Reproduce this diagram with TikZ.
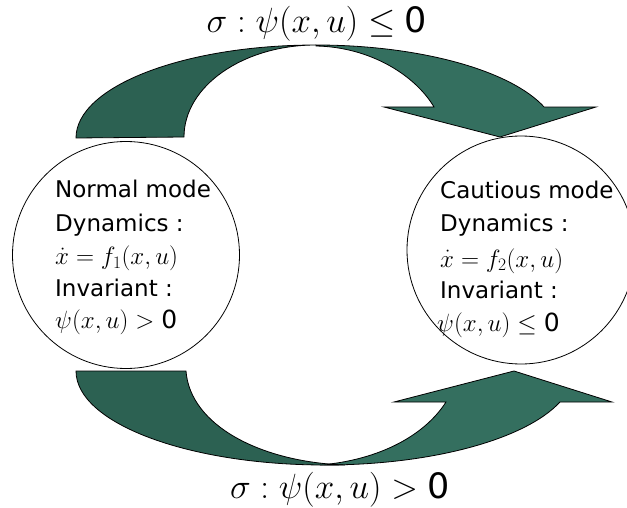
\RequirePackage{fix-cm}
\documentclass[tikz,border=0pt]{standalone}
\usepackage{fontspec}
\setmainfont{DejaVu Sans}
\definecolor{arrowdark}{RGB}{44,97,82}
\definecolor{arrowlight}{RGB}{52,111,95}
\tikzset{
  band/.style={draw=black, line width=0.8pt, line join=miter},
  bandA/.style={band, fill=arrowdark},
  bandB/.style={band, fill=arrowlight},
  modecircle/.style={draw=black, circle, line width=0.8pt, inner sep=0pt},
  txt/.style={anchor=base west, inner sep=0pt, font=\fontsize{23}{28}\selectfont},
  mtxt/.style={anchor=base west, inner sep=0pt, font=\fontsize{25}{30}\selectfont},
  lbl/.style={anchor=base, inner sep=0pt, font=\fontsize{35}{42}\selectfont},
}
\begin{document}
\begin{tikzpicture}[x=1pt,y=-1pt]
\useasboundingbox (0,0) rectangle (627,508);
\fill[white] (0,0) rectangle (627,508);

% modes
\node[modecircle, minimum size=227pt] (normal) at (126,255) {};
\node[modecircle, minimum size=228pt] (cautious) at (521,250) {};

\node[txt]  (n1) at (55,198) {Normal mode};
\node[txt]  (n2) at (55,231) {Dynamics :};
\node[mtxt] (n3) at (55,265) {$\dot{x}=f_1(x,u)$};
\node[txt]  (n4) at (55,296) {Invariant :};
\node[mtxt] (n5) at (55,328) {$\psi(x,u)>\mbox{0}$};

\node[txt]  (c1) at (440,199) {Cautious mode};
\node[txt]  (c2) at (440,231) {Dynamics :};
\node[mtxt] (c3) at (440,267) {$\dot{x}=f_2(x,u)$};
\node[txt]  (c4) at (440,298) {Invariant :};
\node[mtxt] (c5) at (437,331) {$\psi(x,u)\leq\mbox{0}$};

% top curved arrow
\draw[bandB] (316,45) arc[start angle=270, end angle=340.53, x radius=242, y radius=93]
  -- (596,107) -- (500,137) -- (384,107) -- (434,107)
  .. controls (415,75) and (370,47) .. (316,46) -- cycle;
\draw[bandA] (76,138) arc[start angle=180, end angle=270, x radius=240, y radius=93]
  arc[start angle=270, end angle=180, x radius=132, y radius=92] -- cycle;

% bottom curved arrow
\draw[bandB] (446,402) -- (394,402) -- (514,371) -- (612,402) -- (560,402)
  arc[start angle=19.26, end angle=90, x radius=249, y radius=94]
  -- (320,465) .. controls (380,460) and (425,435) .. (446,402) -- cycle;
\draw[bandA] (76,371) -- (186,371) .. controls (190,425) and (260,462) .. (345,465)
  -- (325,465) arc[start angle=90, end angle=180, x radius=249, y radius=94] -- cycle;

% guard labels
\node[lbl] (gtop) at (317,33) {$\sigma:\psi(x,u)\leq\mbox{0}$};
\node[lbl] (gbot) at (340,498) {$\sigma:\psi(x,u)>\mbox{0}$};
\end{tikzpicture}
\end{document}
